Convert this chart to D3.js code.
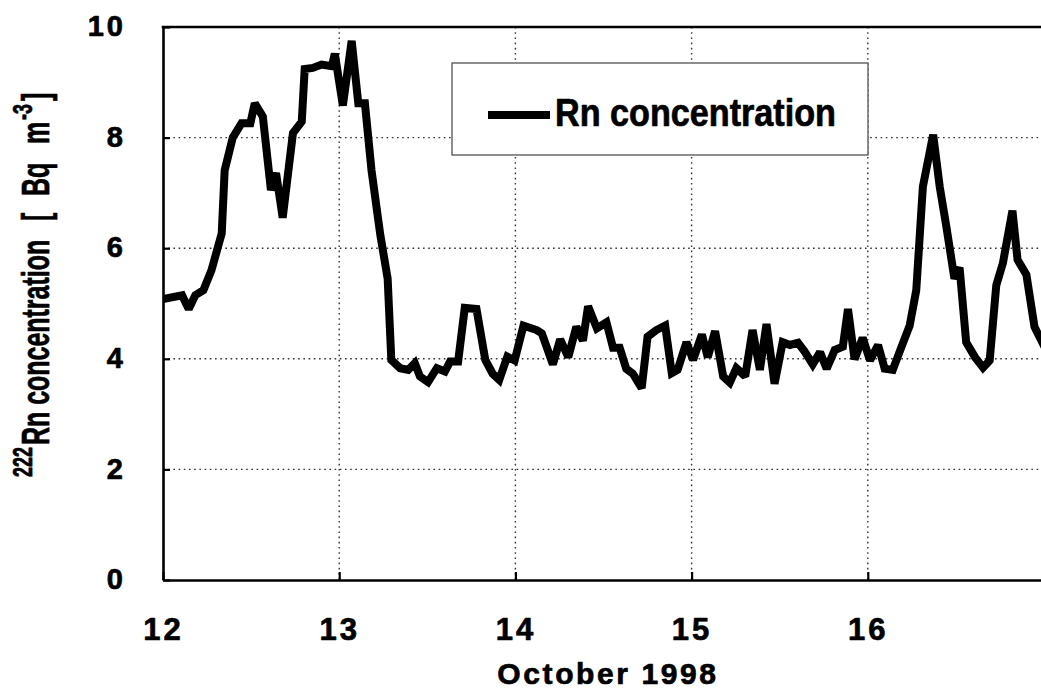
<!DOCTYPE html>
<html>
<head>
<meta charset="utf-8">
<script src="https://cdn.jsdelivr.net/npm/d3@7"></script>
<style>
  body { margin: 0; background: #fff; }
  svg { display: block; }
  text { font-family: "Liberation Sans", Arial, Helvetica, sans-serif; font-weight: bold; fill: #000;
         stroke: #000; stroke-width: 0.7px; stroke-linejoin: round; }
</style>
</head>
<body>
<svg id="chart" width="1041" height="691"></svg>
<script>
// Hours elapsed since 12 October 1998 00:00, and the radon reading at each one
const hours = [
  0, 2.6, 3.5, 4.4, 5.5, 6.6, 7.5, 8.0, 8.4, 9.5,
  10.7, 11.9, 12.5, 13.6, 14.7, 15.4, 16.3, 17.7, 18.9, 19.3,
  20.4, 21.6, 23.0, 23.4, 24.5, 25.7, 26.6, 27.5, 28.4, 29.6,
  30.6, 31.1, 32.3, 33.4, 34.3, 35.0, 36.1, 37.3, 38.4, 39.1,
  40.2, 41.1, 42.7, 43.9, 44.9, 45.8, 46.9, 47.9, 49.1, 50.9,
  51.6, 53.1, 54.1, 55.2, 56.3, 57.2, 57.9, 59.1, 60.4, 61.3,
  62.2, 63.1, 64.0, 65.2, 66.0, 67.2, 68.4, 69.3, 70.1, 71.3,
  72.2, 73.4, 74.2, 75.2, 76.3, 77.2, 78.1, 78.6, 79.3, 80.3,
  81.3, 82.2, 83.3, 84.4, 85.4, 86.5, 87.4, 88.5, 89.5, 90.4,
  91.5, 92.6, 93.3, 94.2, 95.3, 96.3, 97.4, 98.3, 99.4, 100.6,
  101.7, 102.6, 103.5, 104.9, 105.8, 106.7, 107.8, 108.5, 109.4, 110.6,
  111.7, 112.6, 113.5, 114.4, 115.7, 116.4, 117.6, 118.7, 119.6, 120.5
];
const radon = [
  5.08, 5.15, 4.9, 5.15, 5.24, 5.6, 6.03, 6.27, 7.41, 8.0,
  8.26, 8.26, 8.62, 8.38, 7.05, 7.36, 6.55, 8.08, 8.29, 9.24,
  9.26, 9.32, 9.29, 9.52, 8.58, 9.75, 8.62, 8.62, 7.41, 6.24,
  5.45, 3.98, 3.83, 3.8, 3.92, 3.68, 3.58, 3.83, 3.77, 3.95,
  3.95, 4.92, 4.9, 3.98, 3.73, 3.62, 4.04, 3.97, 4.6, 4.52,
  4.46, 3.9, 4.35, 4.03, 4.58, 4.33, 4.95, 4.55, 4.66, 4.2,
  4.2, 3.82, 3.73, 3.47, 4.4, 4.52, 4.6, 3.74, 3.8, 4.3,
  3.98, 4.44, 4.03, 4.5, 3.68, 3.57, 3.83, 3.77, 3.68, 4.52,
  3.8, 4.63, 3.55, 4.3, 4.25, 4.29, 4.13, 3.9, 4.12, 3.82,
  4.16, 4.22, 4.9, 3.99, 4.38, 3.97, 4.25, 3.82, 3.8, 4.22,
  4.6, 5.24, 7.11, 8.05, 7.11, 6.39, 5.45, 5.65, 4.3, 4.03,
  3.84, 3.97, 5.33, 5.73, 6.68, 5.79, 5.52, 4.58, 4.34, 4.1
];

const dayTicks = [12, 13, 14, 15, 16];
const dayGrid = [13, 14, 15, 16];
const concTicks = [0, 2, 4, 6, 8, 10];
const concGrid = [2, 4, 6, 8];
const seriesName = "Rn concentration";
const xTitle = "October 1998";

const FONT = "\"Liberation Sans\", Arial, Helvetica, sans-serif";
const svg = d3.select("#chart");
const plot = { left: 163, right: 1044, top: 27, bottom: 580 };

const x = d3.scaleLinear().domain([12, 17]).range([plot.left, plot.right]);
const y = d3.scaleLinear().domain([0, 10]).range([plot.bottom, plot.top]);

const points = hours.map((h, i) => ({ day: 12 + h / 24, value: radon[i] }));

svg.append("defs").append("clipPath").attr("id", "plot-clip")
  .append("rect")
  .attr("x", plot.left).attr("y", plot.top - 10)
  .attr("width", plot.right - plot.left).attr("height", plot.bottom - plot.top + 10);

// Dotted grid
const grid = svg.append("g")
  .attr("stroke", "#333").attr("stroke-width", 1.4)
  .attr("stroke-dasharray", "1.6,3.6").attr("fill", "none");
grid.selectAll("line.v").data(dayGrid).join("line")
  .attr("class", "v")
  .attr("x1", d => x(d)).attr("x2", d => x(d))
  .attr("y1", plot.top).attr("y2", plot.bottom);
grid.selectAll("line.h").data(concGrid).join("line")
  .attr("class", "h")
  .attr("x1", plot.left).attr("x2", plot.right)
  .attr("y1", d => y(d)).attr("y2", d => y(d));

// Legend box (white fill hides the grid behind it)
const legend = svg.append("g");
legend.append("rect")
  .attr("x", 452).attr("y", 63).attr("width", 416).attr("height", 92)
  .attr("fill", "#fff").attr("stroke", "#444").attr("stroke-width", 1.2);
legend.append("line")
  .attr("x1", 488).attr("x2", 550).attr("y1", 115).attr("y2", 115)
  .attr("stroke", "#000").attr("stroke-width", 8);
legend.append("text")
  .attr("x", 555).attr("y", 126)
  .attr("font-size", 38)
  .attr("textLength", 281).attr("lengthAdjust", "spacingAndGlyphs")
  .text(seriesName);

// Radon series
svg.append("path")
  .datum(points)
  .attr("clip-path", "url(#plot-clip)")
  .attr("fill", "none")
  .attr("stroke", "#000")
  .attr("stroke-width", 8)
  .attr("stroke-linejoin", "miter")
  .attr("stroke-miterlimit", 2)
  .attr("d", d3.line().x(d => x(d.day)).y(d => y(d.value)));

// Axes
const yAxis = svg.append("g")
  .attr("transform", `translate(${plot.left},0)`)
  .call(d3.axisLeft(y).tickValues(concTicks).tickSize(-7).tickSizeOuter(0).tickPadding(37));
yAxis.selectAll("text")
  .attr("font-size", 29).attr("letter-spacing", 3)
  .attr("fill", "#000")
  .attr("dy", "0.3em");

const xAxis = svg.append("g")
  .attr("transform", `translate(0,${plot.bottom})`)
  .call(d3.axisBottom(x).tickValues(dayTicks).tickFormat(d3.format("d")).tickSize(-8).tickSizeOuter(0));
xAxis.selectAll("text")
  .attr("font-size", 31).attr("letter-spacing", 3)
  .attr("fill", "#000")
  .attr("y", 60).attr("dy", 0);

svg.selectAll(".domain").attr("stroke", "#000").attr("stroke-width", 2.6);
svg.selectAll(".tick line").attr("stroke", "#000").attr("stroke-width", 2.2);
svg.selectAll(".tick text").attr("font-family", FONT).attr("font-weight", "bold");

// Top frame line
svg.append("line")
  .attr("x1", plot.left - 1.3).attr("x2", plot.right)
  .attr("y1", plot.top).attr("y2", plot.top)
  .attr("stroke", "#000").attr("stroke-width", 2.6);

// Axis titles
svg.append("text")
  .attr("x", 608).attr("y", 684)
  .attr("text-anchor", "middle")
  .attr("font-size", 30).attr("letter-spacing", 2.6)
  .text(xTitle);

// Vertical title in a condensed bold face; pieces placed along the baseline
const squeeze = 0.64;
const yTitle = svg.append("text")
  .attr("transform", `translate(49,477) rotate(-90) scale(${squeeze},1)`)
  .attr("font-size", 39);
const titleParts = [
  { text: "222", at: 0, sup: true },
  { text: "Rn concentration", at: 32 },
  { text: "[", at: 256 },
  { text: "Bq", at: 281 },
  { text: "m", at: 333 },
  { text: "-3", at: 357, sup: true },
  { text: "]", at: 376 }
];
titleParts.forEach(p => {
  yTitle.append("tspan")
    .attr("x", p.at / squeeze)
    .attr("y", p.sup ? -17 : 0)
    .attr("font-size", p.sup ? 28 : null)
    .text(p.text);
});
</script>
</body>
</html>
